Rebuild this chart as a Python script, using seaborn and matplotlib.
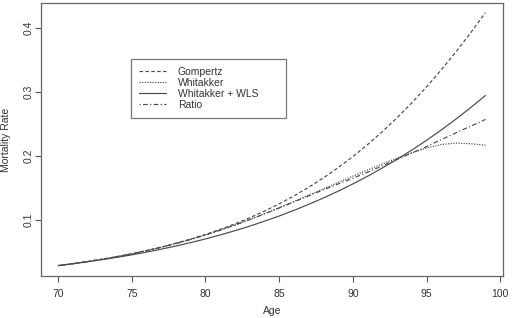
import numpy as np
import pandas as pd
import matplotlib
matplotlib.use("Agg")
import matplotlib.pyplot as plt
import seaborn as sns

# valores (idade 70 a 99)
ages = list(range(70, 100))
gompertz = [0.0290, 0.0320, 0.0354, 0.0391, 0.0431, 0.0476, 0.0526, 0.0580, 0.0640, 0.0705,
            0.0777, 0.0856, 0.0943, 0.1038, 0.1142, 0.1255, 0.1379, 0.1514, 0.1661, 0.1821,
            0.1994, 0.2182, 0.2384, 0.2601, 0.2834, 0.3084, 0.3350, 0.3633, 0.3931, 0.4245]
whitakker = [0.0291, 0.0321, 0.0354, 0.0391, 0.0431, 0.0475, 0.0524, 0.0577, 0.0635, 0.0699,
             0.0769, 0.0845, 0.0926, 0.1012, 0.1102, 0.1195, 0.1292, 0.1390, 0.1490, 0.1590,
             0.1688, 0.1785, 0.1880, 0.1970, 0.2052, 0.2128, 0.2183, 0.2205, 0.2195, 0.2172]
whitakker_wls = [0.0290, 0.0318, 0.0349, 0.0383, 0.0419, 0.0458, 0.0501, 0.0547, 0.0596, 0.0650,
                 0.0707, 0.0769, 0.0836, 0.0907, 0.0984, 0.1065, 0.1153, 0.1247, 0.1347, 0.1453,
                 0.1567, 0.1687, 0.1816, 0.1952, 0.2096, 0.2248, 0.2410, 0.2581, 0.2761, 0.2950]
ratio = [0.0290, 0.0320, 0.0354, 0.0390, 0.0430, 0.0474, 0.0523, 0.0576, 0.0634, 0.0698,
         0.0768, 0.0843, 0.0923, 0.1008, 0.1098, 0.1190, 0.1285, 0.1380, 0.1475, 0.1565,
         0.1655, 0.1750, 0.1850, 0.1950, 0.2050, 0.2150, 0.2260, 0.2365, 0.2470, 0.2575]

methods = ["Gompertz", "Whitakker", "Whitakker + WLS", "Ratio"]
series = [gompertz, whitakker, whitakker_wls, ratio]

df = pd.DataFrame({
    "Age": ages * 4,
    "Rate": sum(series, []),
    "Method": sum([[m] * len(ages) for m in methods], []),
})

sns.set_style("white")
plt.rcParams["font.family"] = ["Liberation Sans", "DejaVu Sans"]

fig = plt.figure(figsize=(5.14, 3.18), dpi=100)
ax = fig.add_axes([0.0798, 0.132, 0.898, 0.8586])

dashes = {
    "Gompertz": (3, 2),
    "Whitakker": (1, 1.2),
    "Whitakker + WLS": "",
    "Ratio": (1, 2, 4, 2),
}
sns.lineplot(data=df, x="Age", y="Rate", style="Method", dashes=dashes,
             color="#4a4a4a", linewidth=0.85, ax=ax, legend=True)

ax.set_xlim(68.84, 100.16)
ax.set_ylim(0.0127, 0.4395)
ax.set_xticks([70, 75, 80, 85, 90, 95, 100])
ax.set_yticks([0.1, 0.2, 0.3, 0.4])
ax.set_yticklabels(["0.1", "0.2", "0.3", "0.4"], rotation=90, va="center")
ax.tick_params(axis="both", which="both", direction="out", length=4, width=0.8,
               colors="#555555", labelcolor="#333333", labelsize=7.5,
               bottom=True, left=True)
ax.tick_params(axis="x", pad=5)
ax.tick_params(axis="y", pad=1.5)
for s in ax.spines.values():
    s.set_color("#666666")
    s.set_linewidth(0.9)

ax.set_xlabel("Age", fontsize=7.5, color="#333333", labelpad=5.5)
ax.set_ylabel("Mortality Rate", fontsize=7.5, color="#333333", labelpad=9)

handles, labels = ax.get_legend_handles_labels()
leg = ax.legend(handles, labels, loc="upper left",
                bbox_to_anchor=(0.196, 0.587, 0.335, 0.208), mode="expand",
                borderaxespad=0, fontsize=7.5, frameon=True, fancybox=False,
                handlelength=2.6, handletextpad=1.1, labelspacing=0.1,
                borderpad=0.75, title=None)
leg.get_frame().set_edgecolor("#555555")
leg.get_frame().set_linewidth(0.9)
for t in leg.get_texts():
    t.set_color("#333333")

fig.savefig("out.png", dpi=100)
